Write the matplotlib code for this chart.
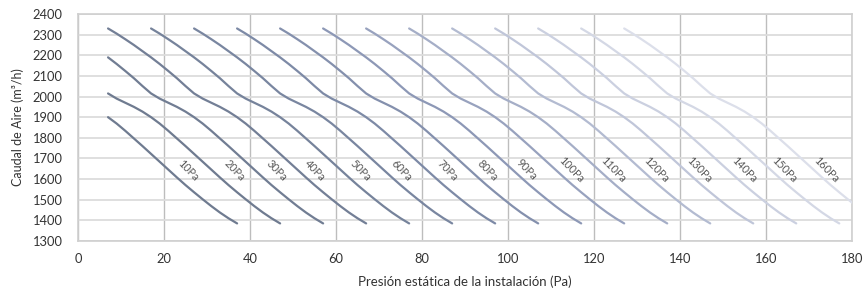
import numpy as np
import matplotlib.pyplot as plt

# one fan curve (t = Pa from the curve's top start)
profile_t = [0, 2, 4, 6, 8, 10, 12, 14, 16, 18, 20, 22, 24, 26, 28, 30,
             32, 34, 36, 38, 40, 42, 44, 46, 48, 50, 52, 54, 56, 58, 60]
profile_q = [2330, 2305, 2278, 2250, 2220, 2190, 2158, 2124, 2089, 2051, 2015,
             1990, 1970, 1950, 1927, 1900, 1869, 1834, 1797, 1760, 1722, 1684,
             1646, 1608, 1571, 1536, 1502, 1469, 1438, 1410, 1385]

# where each curve starts (x of its top point), 16 curves
curve_offsets = [-23, -13, -3, 7, 17, 27, 37, 47, 57, 67, 77, 87, 97, 107, 117, 127]
curve_colors = ['#6f7b90', '#6f7b90', '#717d93', '#737f96', '#76839b', '#7986a0',
                '#7d8aa6', '#8490ad', '#8d98b6', '#98a2be', '#a5aec7', '#b3bbd1',
                '#c0c6d9', '#cbd0e0', '#d4d8e5', '#dcdfea']

labels = ['10Pa', '20Pa', '30Pa', '40Pa', '50Pa', '60Pa', '70Pa', '80Pa',
          '90Pa', '100Pa', '110Pa', '120Pa', '130Pa', '140Pa', '150Pa', '160Pa']
label_x = [25.6, 36.5, 46.3, 55.2, 65.6, 75.3, 85.8, 95.3, 104.4, 114.8, 124.4,
           134.5, 144.5, 155, 164.2, 174]
label_y = [1640, 1640, 1640, 1640, 1640, 1640, 1640, 1640, 1645, 1645, 1645,
           1645, 1645, 1645, 1645, 1645]

x_min = 7

plt.rcParams['font.family'] = ['Lato', 'DejaVu Sans']

fig = plt.figure(figsize=(8.66, 3.05), dpi=100)
ax = fig.add_axes([0.090, 0.210, 0.894, 0.744])

t = np.array(profile_t, dtype=float)
q = np.array(profile_q, dtype=float)
for off, col in zip(curve_offsets, curve_colors):
    x = t + off
    keep = x >= x_min
    ax.plot(x[keep], q[keep], color=col, lw=1.6, solid_capstyle='round',
            solid_joinstyle='round', zorder=3)

for lab, lx, ly in zip(labels, label_x, label_y):
    ax.text(lx, ly, lab, rotation=-46, ha='center', va='center', fontsize=7.8,
            color='#5a5a5a', rotation_mode='anchor', zorder=4)

ax.set_xlim(0, 180)
ax.set_ylim(1300, 2400)
ax.set_xticks(range(0, 181, 20))
ax.set_yticks(range(1300, 2401, 100))
ax.grid(axis='y', color='#dcdcdc', lw=1.3)
ax.grid(axis='x', color='#bdbdbd', lw=1.0)
ax.set_axisbelow(True)
for s in ax.spines.values():
    s.set_color('#cfcfcf')
    s.set_linewidth(1.2)
ax.tick_params(length=0, labelsize=9.3, colors='#333333')
ax.tick_params(axis='y', pad=11)
ax.tick_params(axis='x', pad=9)

ax.set_xlabel('Presión estática de la instalación (Pa)', fontsize=9.5, color='#333333', labelpad=7)
ax.set_ylabel('Caudal de Aire (m³/h)', fontsize=9, color='#333333', labelpad=6)

fig.savefig('out.png', dpi=100)
